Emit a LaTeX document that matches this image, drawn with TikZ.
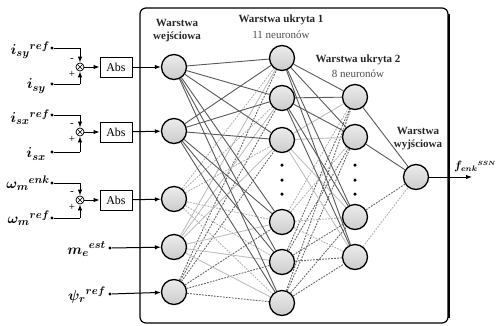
\documentclass[tikz,border=0pt]{standalone}
\usepackage{fontspec}
\setmainfont{Liberation Serif}
\usepackage{amsmath,bm}
\usetikzlibrary{arrows.meta,backgrounds}
\tikzset{
  neuron/.style={circle,draw=black,line width=1.3pt,inner sep=0pt,minimum size=25pt,
    top color=gray!15,bottom color=gray!40},
  hdr/.style={font=\bfseries\fontsize{11}{13}\selectfont,align=center,text=black!85},
  sub/.style={font=\fontsize{11}{13}\selectfont,text=black!70},
  sumc/.style={circle,draw=black,line width=0.7pt,inner sep=0pt,minimum size=8pt,
    path picture={\draw[line width=0.5pt] (path picture bounding box.north west)--(path picture bounding box.south east)
      (path picture bounding box.north east)--(path picture bounding box.south west);}},
  absbox/.style={draw=black,line width=0.9pt,minimum width=32pt,minimum height=20pt,inner sep=1pt,
    font=\fontsize{12}{14}\selectfont},
  sig/.style={line width=1pt,-{Latex[length=6pt,width=4.5pt]}},
  wire/.style={line width=1pt},
  srcdot/.style={circle,fill=black,inner sep=0pt,minimum size=3.2pt},
  lab/.style={font=\fontsize{15}{17}\selectfont,inner sep=0pt},
  sd/.style={draw=black!65,line width=0.9pt},
  sl/.style={draw=black!25,line width=0.9pt},
  dd/.style={draw=black!60,line width=0.9pt,dash pattern=on 1.8pt off 1.2pt},
  dl/.style={draw=black!30,line width=0.9pt,dash pattern=on 1.8pt off 1.2pt},
  ndot/.style={circle,fill=black,inner sep=0pt,minimum size=3.5pt}
}
\begin{document}
\begin{tikzpicture}[x=1pt,y=-1pt]
\useasboundingbox (0,0) rectangle (496,325);
% main box
\draw[line width=1.2pt,rounded corners=6pt] (140,8) rectangle (448,323);
\draw[line width=2pt] (449,14) -- (449,318);

% headers
\node[hdr] (hin) at (177,31) {Warstwa\\wejściowa};
\node[hdr] (hh1) at (281,20) {Warstwa ukryta 1};
\node[sub] (sh1) at (281,35) {11 neuronów};
\node[hdr] (hh2) at (358,60) {Warstwa ukryta 2};
\node[sub] (sh2) at (358,74) {8 neuronów};
\node[hdr] (hout) at (418,139) {Warstwa\\wyjściowa};

% neurons
\node[neuron] (in1) at (174,67) {};
\node[neuron] (in2) at (174,131) {};
\node[neuron] (in3) at (174,199) {};
\node[neuron] (in4) at (174,247) {};
\node[neuron] (in5) at (174,292) {};
\node[neuron] (a1) at (282,58) {};
\node[neuron] (a2) at (282,98) {};
\node[neuron] (a3) at (282,140) {};
\node[neuron] (a4) at (282,222) {};
\node[neuron] (a5) at (282,262) {};
\node[neuron] (a6) at (282,303) {};
\node[neuron] (b1) at (355,97) {};
\node[neuron] (b2) at (355,137) {};
\node[neuron] (b3) at (355,217) {};
\node[neuron] (b4) at (355,257) {};
\node[neuron] (o) at (416,177) {};
\foreach \y [count=\i] in {165,180,194}{
  \node[ndot] (da\i) at (282,\y) {};
  \node[ndot] (db\i) at (355,\y) {};
}

\begin{scope}[on background layer]
  \foreach \t in {a1,a2,a3,a4,a5,a6}{
    \draw[dl] (in3) -- (\t);
    \draw[sl] (in4) -- (\t);
    \draw[dd] (in5) -- (\t);
  }
  \foreach \t in {a1,a2,a3,a4,a5,a6}{
    \draw[sd] (in1) -- (\t);
    \draw[sd] (in2) -- (\t);
  }
  \foreach \t in {b1,b2,b3,b4}{
    \draw[sl] (a3) -- (\t);
    \draw[dl] (a4) -- (\t);
    \draw[dd] (a5) -- (\t);
    \draw[dd] (a6) -- (\t);
  }
  \foreach \t in {b1,b2,b3,b4}{
    \draw[sd] (a1) -- (\t);
    \draw[sd] (a2) -- (\t);
  }
  \draw[sd] (b1) -- (o);
  \draw[sd] (b2) -- (o);
  \draw[dd] (b3) -- (o);
  \draw[dl] (b4) -- (o);
\end{scope}

% output
\coordinate (oend) at (472,177);
\draw[sig] (o) -- (oend);
\node[font=\fontsize{12}{14}\selectfont,inner sep=0pt,anchor=south west] (flab) at (454,172) {$\bm{f_{enk}{}^{\scriptscriptstyle SSN}}$};

% input blocks
\foreach \k/\yc/\ya/\yb in {1/67/48/84, 2/132/115/152, 3/200/183/218}{
  \node[sumc] (s\k) at (80,\yc) {};
  \node[absbox] (abs\k) at (116,\yc) {Abs};
  \node[srcdot] (pa\k) at (52,\ya) {};
  \node[srcdot] (pb\k) at (52,\yb) {};
  \coordinate (ca\k) at (80,\ya);
  \coordinate (cb\k) at (80,\yb);
  \draw[wire] (pa\k) -- (ca\k);
  \draw[sig] (ca\k) -- (s\k);
  \draw[wire] (pb\k) -- (cb\k);
  \draw[sig] (cb\k) -- (s\k);
  \draw[sig] (s\k) -- (abs\k);
  \node[font=\fontsize{11}{11}\selectfont,inner sep=0pt] (mn\k) at (72,\yc-7) {-};
  \node[font=\fontsize{11}{11}\selectfont,inner sep=0pt] (pl\k) at (72,\yc+7) {+};
}
\draw[sig] (abs1) -- (in1);
\draw[sig] (abs2) -- (in2);
\draw[sig] (abs3) -- (in3);

\node[srcdot] (pm) at (110,248) {};
\node[srcdot] (pp) at (110,294) {};
\draw[sig] (pm) -- (in4);
\draw[sig] (pp) -- (in5);

% labels
\node[lab,anchor=east] (l1) at (50,50) {$\bm{i_{sy}{}^{ref}}$};
\node[lab,anchor=east] (l2) at (46,86) {$\bm{i_{sy}}$};
\node[lab,anchor=east] (l3) at (50,117) {$\bm{i_{sx}{}^{ref}}$};
\node[lab,anchor=east] (l4) at (46,154) {$\bm{i_{sx}}$};
\node[lab,anchor=east] (l5) at (50,183) {$\bm{\omega_{m}{}^{enk}}$};
\node[lab,anchor=east] (l6) at (50,218) {$\bm{\omega_{m}{}^{ref}}$};
\node[lab,anchor=east] (l7) at (106,249) {$\bm{m_{e}{}^{est}}$};
\node[lab,anchor=east] (l8) at (106,295) {$\bm{\psi_{r}{}^{ref}}$};
\end{tikzpicture}
\end{document}
